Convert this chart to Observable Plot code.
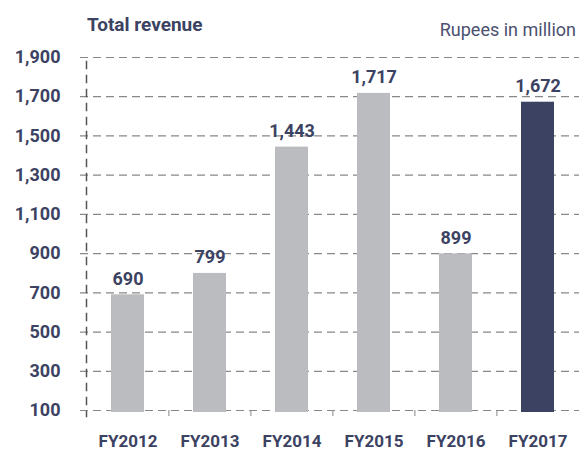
<!DOCTYPE html>
<html>
<head>
<meta charset="utf-8">
<script src="https://cdn.jsdelivr.net/npm/d3@7"></script>
<script src="https://cdn.jsdelivr.net/npm/@observablehq/plot@0.6"></script>
<style>
  body { margin: 0; background: #fff; font-family: Roboto, sans-serif; }
  #wrap { width: 579px; height: 450px; position: relative; overflow: hidden; }
  #head { position: relative; height: 44px; }
  #title { position: absolute; left: 87px; top: 13px; font-size: 19px; font-weight: bold; color: #3c4262; white-space: nowrap; line-height: normal; }
  #unit { position: absolute; right: 3px; top: 19px; font-size: 18px; color: #4b5070; white-space: nowrap; line-height: normal; }
  svg { display: block; }
</style>
</head>
<body>
<div id="wrap">
  <div id="head"><div id="title">Total revenue</div><div id="unit">Rupees in million</div></div>
  <div id="chart"></div>
</div>
<script>
const years = ["FY2012", "FY2013", "FY2014", "FY2015", "FY2016", "FY2017"];
const revenue = [690, 799, 1443, 1717, 899, 1672];
const highlight = [false, false, false, false, false, true];
const yTicks = [100, 300, 500, 700, 900, 1100, 1300, 1500, 1700, 1900];

const data = years.map((y, i) => ({year: y, value: revenue[i], hl: highlight[i]}));
const navy = "#3c4262";
const fmt = d3.format(",");

const plot = Plot.plot({
  width: 579,
  height: 406,
  marginTop: 13,
  marginBottom: 40,
  marginLeft: 80,
  marginRight: 0,
  style: {fontFamily: "Roboto, sans-serif", background: "#fff"},
  x: {domain: years, range: [86, 579], paddingInner: 0.6, paddingOuter: 0.3, label: null},
  y: {domain: [100, 1900], label: null},
  marks: [
    Plot.gridY(yTicks, {stroke: "#888", strokeOpacity: 1, strokeDasharray: "8,5", strokeWidth: 1.2}),
    Plot.frame({anchor: "left", dx: 6, stroke: "#555", strokeDasharray: "7,7", strokeWidth: 1.5, insetTop: 4, insetBottom: -6}),
    Plot.barY(data, {x: "year", y1: 100, y2: "value", fill: d => d.hl ? navy : "#bbbcbf", insetBottom: -2}),
    Plot.text(data, {x: "year", y: "value", text: d => fmt(d.value), dy: -16, fill: navy, fontWeight: "bold", fontSize: 18}),
    Plot.axisY(yTicks, {tickSize: 0, tickPadding: 20, tickFormat: fmt, fill: navy, fontWeight: "bold", fontSize: 18}),
    Plot.axisX(years.slice(1), {tickSize: 6, dx: -41.1, tickFormat: () => "", stroke: "#888"}),
    Plot.axisX(years, {tickSize: 0, tickPadding: 24, fill: navy, fontWeight: "bold", fontSize: 17})
  ]
});
document.getElementById("chart").appendChild(plot);
</script>
</body>
</html>
